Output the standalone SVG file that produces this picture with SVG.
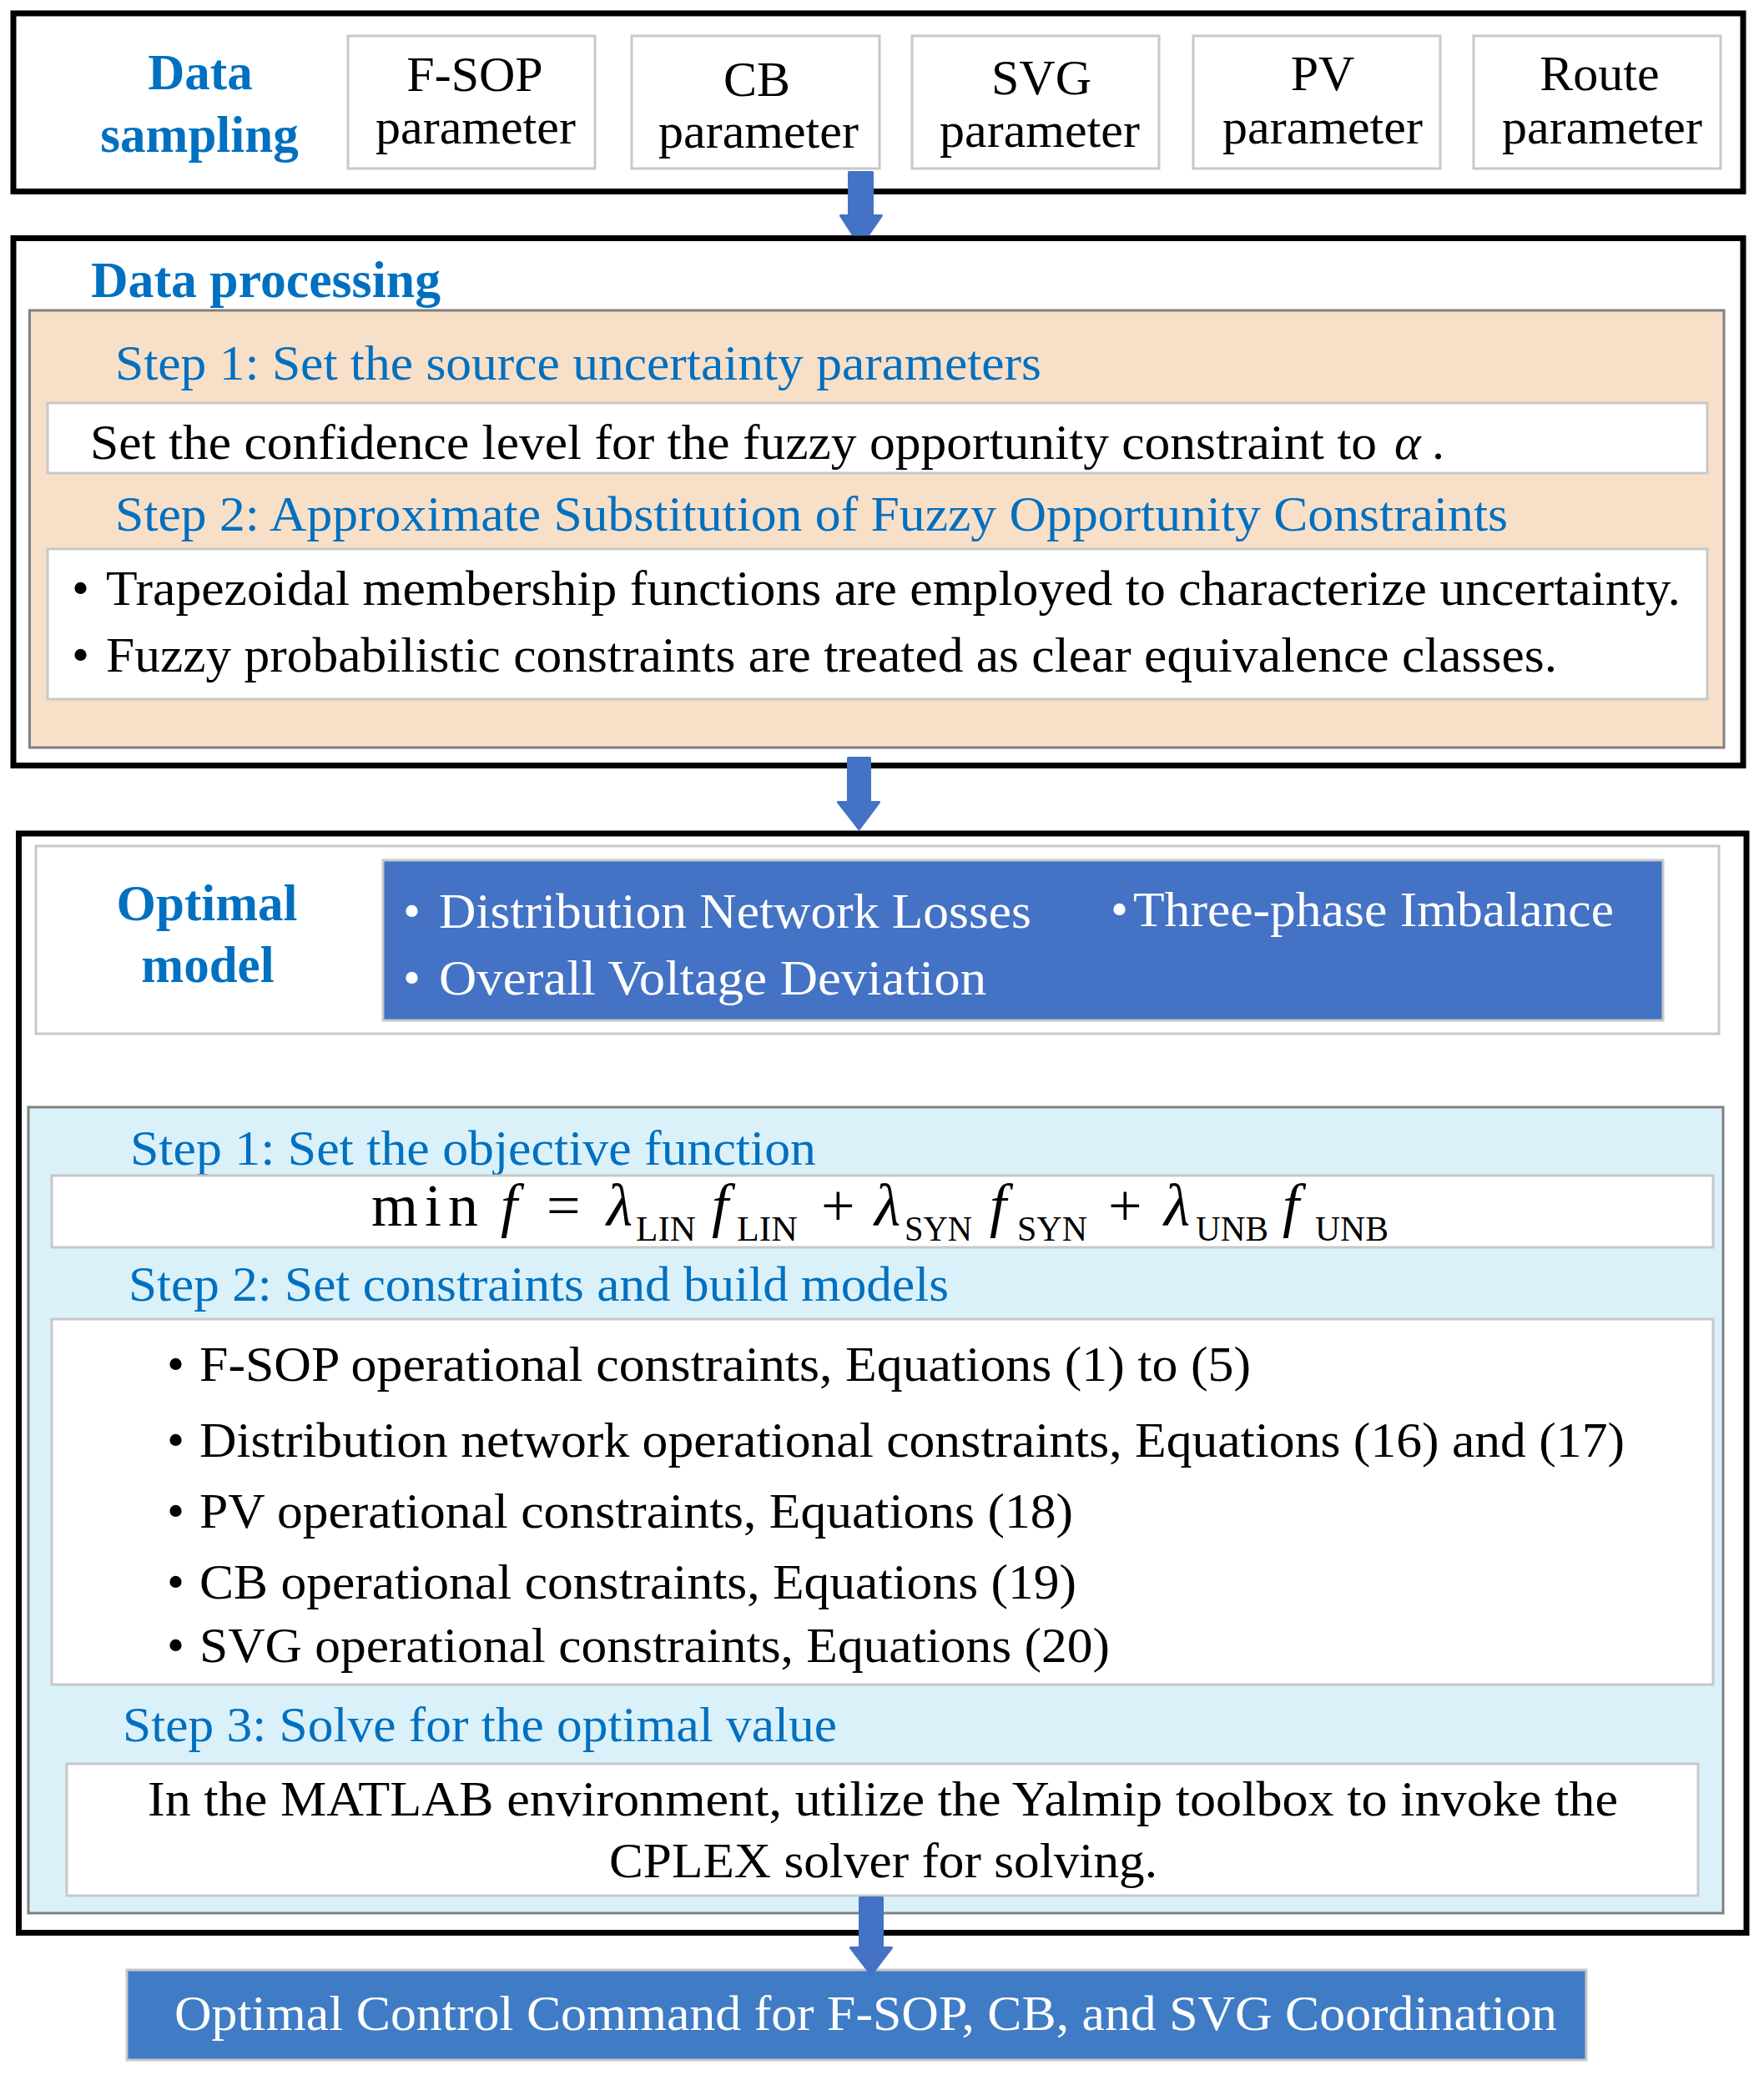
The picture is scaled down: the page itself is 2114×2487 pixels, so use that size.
<svg xmlns="http://www.w3.org/2000/svg" width="2114" height="2487" viewBox="0 0 2114 2487">
<style>
text{font-family:"Liberation Serif","Times New Roman",serif;font-size:60px;fill:#000}
.h{font-weight:bold;fill:#0070C0;font-size:61px}
.s{fill:#0070C0}
.w{fill:#fff}
.c{text-anchor:middle}
.i{font-style:italic}
.m{font-size:72px}
.sub{font-size:42px}
.outer{fill:#fff;stroke:#000;stroke-width:7}
.lg{fill:#fff;stroke:#c8c8c8;stroke-width:3}
.dg{stroke:#808080;stroke-width:3}
.arrow{fill:#4472C4;stroke:#4472C4;stroke-width:3;stroke-linejoin:round}
</style>
<rect width="2114" height="2487" fill="#fff"/>

<g id="data-sampling">
<rect class="outer" x="16" y="16" width="2073" height="213.5"/>
<text class="h c" x="240" y="107">Data</text>
<text class="h c" x="239" y="182">sampling</text>
</g>
<g id="fsop-param">
<rect class="lg" x="417" y="43" width="296" height="159"/>
<text class="c" x="569" y="109" font-size="61">F-SOP</text>
<text class="c" x="570" y="172" font-size="61">parameter</text>
</g>
<g id="cb-param">
<rect class="lg" x="757" y="43" width="297" height="159"/>
<text class="c" x="907" y="115" font-size="61">CB</text>
<text class="c" x="909" y="177" font-size="61">parameter</text>
</g>
<g id="svg-param">
<rect class="lg" x="1093" y="43" width="296" height="159"/>
<text class="c" x="1248" y="113" font-size="61">SVG</text>
<text class="c" x="1246" y="176" font-size="61">parameter</text>
</g>
<g id="pv-param">
<rect class="lg" x="1430" y="43" width="296" height="159"/>
<text class="c" x="1585" y="108" font-size="61">PV</text>
<text class="c" x="1585" y="172" font-size="61">parameter</text>
</g>
<g id="route-param">
<rect class="lg" x="1766" y="43" width="296" height="159"/>
<text class="c" x="1917" y="108" font-size="61">Route</text>
<text class="c" x="1920" y="172" font-size="61">parameter</text>
</g>

<g id="data-processing">
<rect class="outer" x="16" y="285.5" width="2073" height="632"/>
<text class="h" x="109" y="356" textLength="419" lengthAdjust="spacingAndGlyphs">Data processing</text>
<rect class="dg" fill="#F8DFC8" x="35.5" y="372" width="2030.5" height="524"/>
<text class="s" x="138" y="455" textLength="1110" lengthAdjust="spacingAndGlyphs">Step 1: Set the source uncertainty parameters</text>
<rect class="lg" x="57" y="483" width="1989" height="84"/>
<text x="108" y="550" textLength="1542" lengthAdjust="spacingAndGlyphs">Set the confidence level for the fuzzy opportunity constraint to</text>
<text class="i" x="1671" y="550">α</text>
<text x="1716" y="550">.</text>
<text class="s" x="138" y="636" textLength="1669" lengthAdjust="spacingAndGlyphs">Step 2: Approximate Substitution of Fuzzy Opportunity Constraints</text>
<rect class="lg" x="57" y="658" width="1989" height="180"/>
<text x="86" y="725">•</text>
<text x="127" y="725" textLength="1887" lengthAdjust="spacingAndGlyphs">Trapezoidal membership functions are employed to characterize uncertainty.</text>
<text x="86" y="805">•</text>
<text x="127" y="805" textLength="1739" lengthAdjust="spacingAndGlyphs">Fuzzy probabilistic constraints are treated as clear equivalence classes.</text>
</g>

<g id="optimal-model">
<rect class="outer" x="22.5" y="999" width="2070.5" height="1317.5"/>
<rect class="lg" x="43" y="1014" width="2017" height="225"/>
<text class="h c" x="248" y="1103">Optimal</text>
<text class="h c" x="249" y="1177">model</text>
<rect class="lg" style="fill:#4472C4" x="459" y="1031" width="1534" height="192"/>
<text class="w" x="483" y="1112">•</text>
<text class="w" x="526" y="1112" textLength="710" lengthAdjust="spacingAndGlyphs">Distribution Network Losses</text>
<text class="w" x="1331" y="1110">•</text>
<text class="w" x="1358" y="1110" textLength="576" lengthAdjust="spacingAndGlyphs">Three-phase Imbalance</text>
<text class="w" x="483" y="1192">•</text>
<text class="w" x="526" y="1192" textLength="656" lengthAdjust="spacingAndGlyphs">Overall  Voltage Deviation</text>
</g>

<g id="model-steps">
<rect class="dg" fill="#DAF1FA" x="34" y="1327" width="2031" height="966"/>
<text class="s" x="156" y="1396" textLength="822" lengthAdjust="spacingAndGlyphs">Step 1: Set the objective function</text>
<rect class="lg" x="62" y="1409" width="1991" height="86"/>
<text class="m" x="445" y="1469" textLength="128" lengthAdjust="spacing">min</text>
<text class="m i" x="600" y="1469">f</text>
<text class="m" x="655" y="1469">=</text>
<text class="m i" x="727" y="1469">λ</text>
<text class="sub" x="762" y="1487" textLength="72" lengthAdjust="spacingAndGlyphs">LIN</text>
<text class="m i" x="853" y="1469">f</text>
<text class="sub" x="883" y="1487" textLength="73" lengthAdjust="spacingAndGlyphs">LIN</text>
<text class="m" x="984" y="1469">+</text>
<text class="m i" x="1048" y="1469">λ</text>
<text class="sub" x="1084" y="1487" textLength="81" lengthAdjust="spacingAndGlyphs">SYN</text>
<text class="m i" x="1186" y="1469">f</text>
<text class="sub" x="1219" y="1487" textLength="84" lengthAdjust="spacingAndGlyphs">SYN</text>
<text class="m" x="1328" y="1469">+</text>
<text class="m i" x="1395" y="1469">λ</text>
<text class="sub" x="1433" y="1487" textLength="87" lengthAdjust="spacingAndGlyphs">UNB</text>
<text class="m i" x="1537" y="1469">f</text>
<text class="sub" x="1576" y="1487" textLength="88" lengthAdjust="spacingAndGlyphs">UNB</text>
<text class="s" x="154" y="1559" textLength="983" lengthAdjust="spacingAndGlyphs">Step 2: Set constraints and build models</text>
<rect class="lg" x="62" y="1581" width="1991" height="438"/>
<text x="200" y="1655">•</text>
<text x="239" y="1655" textLength="1260" lengthAdjust="spacingAndGlyphs">F-SOP operational constraints, Equations (1) to (5)</text>
<text x="200" y="1746">•</text>
<text x="239" y="1746" textLength="1708" lengthAdjust="spacingAndGlyphs">Distribution network operational constraints, Equations (16) and (17)</text>
<text x="200" y="1831">•</text>
<text x="239" y="1831" textLength="1047" lengthAdjust="spacingAndGlyphs">PV operational constraints, Equations (18)</text>
<text x="200" y="1916">•</text>
<text x="239" y="1916" textLength="1051" lengthAdjust="spacingAndGlyphs">CB operational constraints, Equations (19)</text>
<text x="200" y="1992">•</text>
<text x="239" y="1992" textLength="1091" lengthAdjust="spacingAndGlyphs">SVG operational constraints, Equations (20)</text>
<text class="s" x="147" y="2087" textLength="856" lengthAdjust="spacingAndGlyphs">Step 3: Solve for the optimal value</text>
<rect class="lg" x="80" y="2114" width="1955" height="158"/>
<text x="177" y="2176" textLength="1762" lengthAdjust="spacingAndGlyphs">In the MATLAB environment, utilize the Yalmip toolbox to invoke the</text>
<text x="730" y="2250" textLength="657" lengthAdjust="spacingAndGlyphs">CPLEX solver for solving.</text>
</g>

<g id="control-command">
<rect class="lg" style="fill:#3F7CC5" x="152" y="2361" width="1749" height="108"/>
<text class="w" x="209" y="2433" textLength="1657" lengthAdjust="spacingAndGlyphs">Optimal Control Command for F-SOP, CB, and SVG Coordination</text>
</g>

<g id="connectors">
<path class="arrow" d="M1017.5,206.5 H1045.5 V258.5 H1056.5 L1041,281 H1022 L1007.5,258.5 H1017.5 Z"/>
<path class="arrow" d="M1016.5,908.5 H1042.5 V961.5 H1053.5 L1029.5,993.5 L1004.5,961.5 H1016.5 Z"/>
<path class="arrow" d="M1030.5,2274.5 H1057.5 V2334.5 H1068.5 L1044,2366.5 L1019.5,2334.5 H1030.5 Z"/>
</g>
</svg>
